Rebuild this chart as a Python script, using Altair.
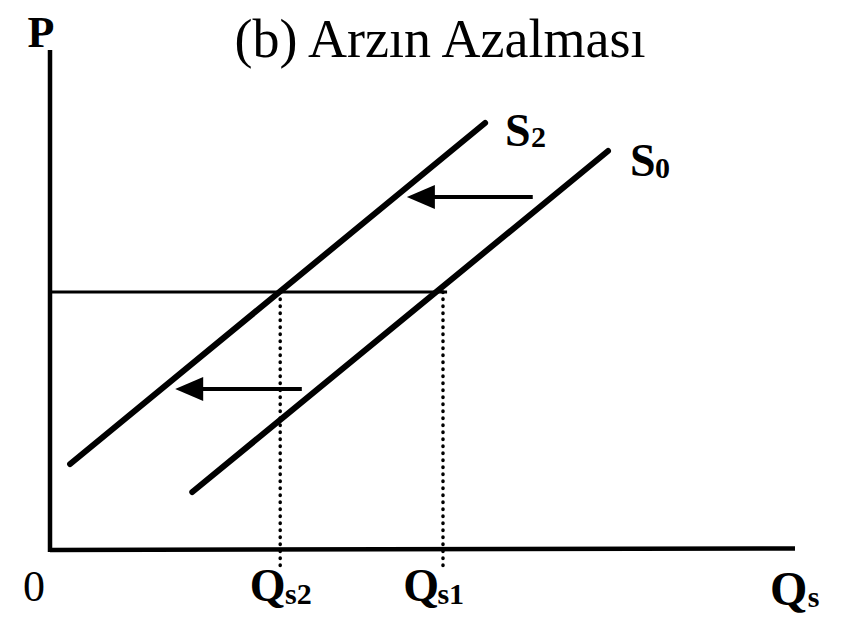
import altair as alt
import pandas as pd

# ---- data (economic units: Q horizontal, P vertical) ----
S0_Q = [1.91, 7.49]
S0_P = [1.16, 7.98]
S2_Q = [0.27, 5.84]
S2_P = [1.72, 8.54]
AXIS_Q_MAX = 10.0
AXIS_P_MAX = 10.0
P_EQ = 5.16
P_LINE_END_Q = 5.33
QS2 = 3.09
QS1 = 5.275
DOT_BOTTOM_P = -0.36
ARROW_P = [7.06, 3.22]
ARROW_TAIL_Q = [6.48, 3.38]
ARROW_TIP_Q = [4.79, 1.68]

TITLE = "(b) Arzın Azalması"

XDOM = [-0.5638, 10.5101]
YDOM = [-1.28, 10.84]

xs = alt.Scale(domain=XDOM, nice=False, zero=False)
ys = alt.Scale(domain=YDOM, nice=False, zero=False)


def seg_df(rows):
    return pd.DataFrame(rows, columns=["q", "p", "q2", "p2"])


def rules(df, width, dash=None, cap="butt"):
    kw = dict(color="black", strokeWidth=width, strokeCap=cap)
    if dash is not None:
        kw["strokeDash"] = dash
    return alt.Chart(df).mark_rule(**kw).encode(
        x=alt.X("q:Q", scale=xs, axis=None),
        y=alt.Y("p:Q", scale=ys, axis=None),
        x2="q2:Q",
        y2="p2:Q",
    )


supply = seg_df([
    [S2_Q[0], S2_P[0], S2_Q[1], S2_P[1]],
    [S0_Q[0], S0_P[0], S0_Q[1], S0_P[1]],
])
axes = seg_df([
    [0, AXIS_P_MAX, 0, -0.04],
    [0, 0, AXIS_Q_MAX, 0.03],
])
price = seg_df([[0, P_EQ, P_LINE_END_Q, P_EQ]])
dotted = seg_df([
    [QS2, P_EQ, QS2, DOT_BOTTOM_P],
    [QS1, P_EQ, QS1, DOT_BOTTOM_P],
])
head_len = 0.30
shafts = seg_df([
    [ARROW_TAIL_Q[i], ARROW_P[i], ARROW_TIP_Q[i] + head_len, ARROW_P[i]]
    for i in range(2)
])
heads = pd.DataFrame({
    "q": [t + 0.188 for t in ARROW_TIP_Q],
    "p": ARROW_P,
})

arrowheads = alt.Chart(heads).mark_point(
    shape="M -1 0 L 1 -0.85 L 1 0.85 Z",
    size=784, filled=True, color="black", opacity=1, strokeWidth=0,
).encode(
    x=alt.X("q:Q", scale=xs, axis=None),
    y=alt.Y("p:Q", scale=ys, axis=None),
)

SERIF = "Liberation Serif"


def text_layer(df, size, weight="bold", align="left"):
    return alt.Chart(df).mark_text(
        font=SERIF, fontSize=size, fontWeight=weight, align=align,
        baseline="alphabetic", color="black",
    ).encode(
        x=alt.X("q:Q", scale=xs, axis=None),
        y=alt.Y("p:Q", scale=ys, axis=None),
        text="t:N",
    )


title_df = pd.DataFrame({"q": [5.235], "p": [9.86], "t": [TITLE]})
p_df = pd.DataFrame({"q": [-0.121], "p": [10.06], "t": ["P"]})
zero_df = pd.DataFrame({"q": [-0.215], "p": [-1.02], "t": ["0"]})
big_df = pd.DataFrame({
    "q": [2.68, 4.74, 6.107, 7.785],
    "p": [-1.02, -1.02, 8.08, 7.48],
    "t": ["Q", "Q", "S", "S"],
})
qs_df = pd.DataFrame({"q": [9.664], "p": [-1.10], "t": ["Q"]})
sub_df = pd.DataFrame({
    "q": [3.154, 5.20, 6.456, 8.121],
    "p": [-1.08, -1.08, 8.06, 7.44],
    "t": ["s2", "s1", "2", "0"],
})
qs_sub_df = pd.DataFrame({"q": [10.17], "p": [-1.13], "t": ["s"]})

chart = alt.layer(
    rules(axes, 4.5),
    rules(price, 3),
    rules(dotted, 3.5, dash=[0.5, 6.5], cap="round"),
    rules(supply, 6, cap="round"),
    rules(shafts, 4),
    arrowheads,
    text_layer(title_df, 54, weight="normal", align="center"),
    text_layer(p_df, 44, align="center"),
    text_layer(zero_df, 44, weight="normal", align="center"),
    text_layer(big_df, 46),
    text_layer(qs_df, 48),
    text_layer(sub_df, 30),
    text_layer(qs_sub_df, 30),
).properties(
    width=825, height=606, padding=0, autosize="none", background="white",
).configure_view(stroke=None)

chart.save("out.html", embed_options={"renderer": "svg", "actions": False})
